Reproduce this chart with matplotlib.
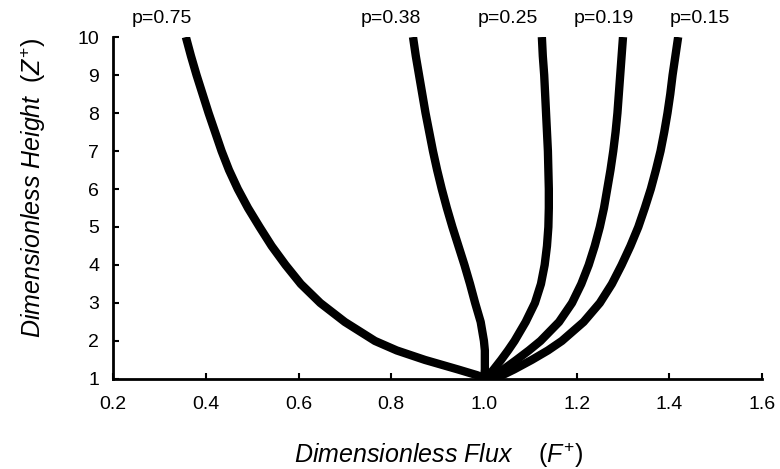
#Dimensionless flux profiles for several p values

import matplotlib
matplotlib.use('Agg')
import matplotlib.pyplot as plt

plt.rcParams['font.family'] = ['Liberation Sans', 'DejaVu Sans']
plt.rcParams['mathtext.fontset'] = 'custom'
plt.rcParams['mathtext.it'] = 'Liberation Sans:italic'
plt.rcParams['mathtext.rm'] = 'Liberation Sans'

#Height grid (Z+), shared by all curves
Z = [10, 9.5, 9, 8.5, 8, 7.5, 7, 6.5, 6, 5.5, 5, 4.5, 4, 3.5, 3, 2.5, 2, 1.75, 1.5, 1.25, 1.1, 1.0]

#Flux (F+) for each p
F_075 = [0.357, 0.368, 0.380, 0.393, 0.406, 0.420, 0.434, 0.450, 0.469, 0.491, 0.516, 0.542,
         0.572, 0.605, 0.647, 0.700, 0.765, 0.812, 0.873, 0.944, 0.985, 1.005]
F_038 = [0.847, 0.853, 0.860, 0.867, 0.874, 0.882, 0.890, 0.899, 0.909, 0.920, 0.932, 0.945,
         0.958, 0.970, 0.981, 0.993, 1.000, 1.002, 1.002, 1.002, 1.001, 1.0]
F_025 = [1.125, 1.127, 1.130, 1.132, 1.134, 1.136, 1.138, 1.139, 1.140, 1.140, 1.139, 1.136,
         1.131, 1.123, 1.110, 1.090, 1.066, 1.052, 1.037, 1.021, 1.011, 1.005]
F_019 = [1.300, 1.297, 1.294, 1.291, 1.288, 1.284, 1.279, 1.273, 1.266, 1.259, 1.250, 1.239,
         1.226, 1.210, 1.190, 1.162, 1.122, 1.097, 1.070, 1.042, 1.024, 1.012]
F_015 = [1.419, 1.413, 1.407, 1.402, 1.396, 1.389, 1.381, 1.371, 1.360, 1.347, 1.333, 1.316,
         1.297, 1.276, 1.250, 1.215, 1.168, 1.138, 1.103, 1.065, 1.040, 1.025]

curves = [F_075, F_038, F_025, F_019, F_015]
labels = ['p=0.75', 'p=0.38', 'p=0.25', 'p=0.19', 'p=0.15']
label_x = [0.306, 0.800, 1.052, 1.259, 1.466]

xticks = [0.2, 0.4, 0.6, 0.8, 1.0, 1.2, 1.4, 1.6]
yticks = [1, 2, 3, 4, 5, 6, 7, 8, 9, 10]

fig = plt.figure(figsize=(7.8, 4.69), dpi=100)
ax = fig.add_axes([0.145, 0.192, 0.832, 0.729])

for F in curves:
    ax.plot(F, Z, '-k', linewidth=6, solid_capstyle='butt', solid_joinstyle='round')

for lab, lx in zip(labels, label_x):
    ax.text(lx, 10.5, lab, ha='center', va='center', fontsize=14, clip_on=False)

ax.set_xlim(0.2, 1.6)
ax.set_ylim(1, 10)
ax.set_xticks(xticks)
ax.set_xticklabels(['%.1f' % t for t in xticks])
ax.set_yticks(yticks)
ax.tick_params(direction='in', length=4, width=1.5, labelsize=14, pad=12)
ax.tick_params(axis='y', pad=10)

ax.spines['top'].set_visible(False)
ax.spines['right'].set_visible(False)
ax.spines['left'].set_linewidth(2)
ax.spines['bottom'].set_linewidth(2)

ax.set_xlabel(r'Dimensionless Flux    $(F^{+})$', fontsize=18, style='italic')
ax.set_ylabel(r'Dimensionless Height  $(Z^{+})$', fontsize=18, style='italic')
ax.xaxis.set_label_coords(0.502, -0.18)
ax.yaxis.set_label_coords(-0.1, 0.56)

plt.savefig('out.png', dpi=100)
